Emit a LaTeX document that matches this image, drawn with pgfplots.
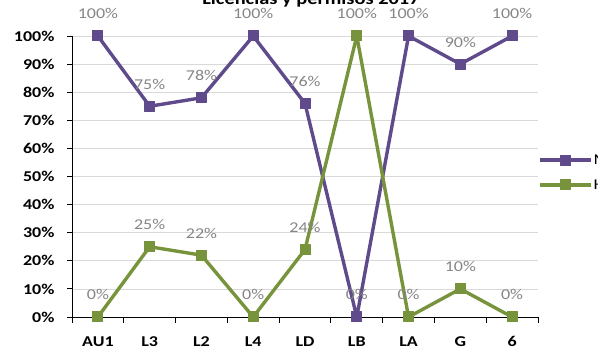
\documentclass[border=0pt]{standalone}
\usepackage{pgfplots}
\pgfplotsset{compat=1.18}
\usepackage{fontspec}
\setmainfont{Carlito}[FakeStretch=1.2]
\definecolor{mpurple}{HTML}{5F4A8B}
\definecolor{hgreen}{HTML}{77933C}
\definecolor{lblgray}{HTML}{858585}
\definecolor{gridgray}{HTML}{D9D9D9}
\begin{document}
\begin{tikzpicture}
\begin{axis}[
  at={(72pt,44pt)}, anchor=south west,
  scale only axis, width=466pt, height=281pt,
  xmin=-0.5, xmax=8.5, ymin=0, ymax=100,
  axis lines*=left,
  axis line style={black, line width=0.8pt},
  clip=false,
  xtick={0,...,8},
  xticklabels={AU1,L3,L2,L4,LD,LB,LA,G,6},
  minor xtick={-0.5,0.5,...,8.5},
  ytick={0,10,...,100},
  yticklabels={0\%,10\%,20\%,30\%,40\%,50\%,60\%,70\%,80\%,90\%,100\%},
  tick align=outside,
  major tick length=5pt, minor tick length=6pt,
  every major x tick/.append style={draw=none},
  tick style={black, line width=0.8pt},
  ymajorgrids, grid style={gridgray, line width=0.7pt},
  ticklabel style={font=\bfseries\fontsize{15}{18}\selectfont},
  xticklabel style={yshift=-11pt},
  yticklabel style={xshift=-9pt},
  /pgf/number format/assume math mode=true,
  every node near coord/.append style={font=\fontsize{15}{18}\selectfont, text=lblgray, anchor=base, yshift=17pt, inner sep=0pt},
  legend style={at={(1,0.514)}, anchor=west, draw=none, fill=none, inner xsep=0pt, inner ysep=0pt, row sep=11pt, font=\fontsize{15}{18}\selectfont, legend cell align=left, nodes={inner sep=1pt}},
  legend image code/.code={\draw[mark repeat=2,mark phase=2,#1] plot coordinates {(0pt,0pt) (25.5pt,0pt) (51pt,0pt)};},
]
\addplot[mpurple, line width=3.4pt, line join=round, mark=square*, mark size=5pt, mark options={rounded corners=2.5pt, solid, line width=1pt},
  nodes near coords={\pgfmathprintnumber{\pgfplotspointmeta}\%}]
  coordinates {(0,100) (1,75) (2,78) (3,100) (4,76) (5,0) (6,100) (7,90) (8,100)};
\addlegendentry{Mujeres}
\addplot[hgreen, line width=3.4pt, line join=round, mark=square*, mark size=5pt, mark options={rounded corners=2.5pt, solid, line width=1pt},
  nodes near coords={\pgfmathprintnumber{\pgfplotspointmeta}\%}]
  coordinates {(0,0) (1,25) (2,22) (3,0) (4,24) (5,100) (6,0) (7,10) (8,0)};
\addlegendentry{Hombres}
\end{axis}
\node[font=\bfseries\fontsize{17}{20}\selectfont, anchor=base] at (311pt,356pt) {Licencias y permisos 2017};
\pgfresetboundingbox
\useasboundingbox (0,0) rectangle (598pt,361pt);
\end{tikzpicture}
\end{document}
